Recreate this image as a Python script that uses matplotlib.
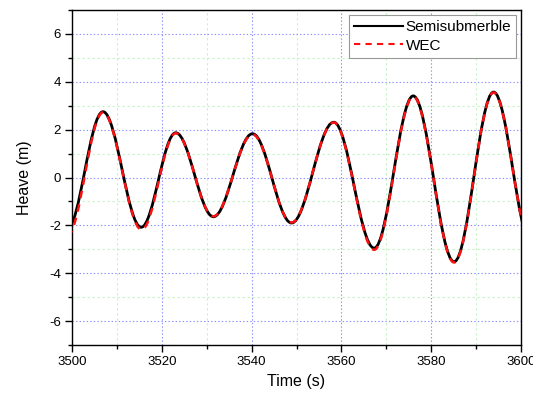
import matplotlib
matplotlib.use("Agg")
import matplotlib.pyplot as plt
from matplotlib.path import Path
from matplotlib.patches import PathPatch
from matplotlib.ticker import MultipleLocator

plt.rcParams['font.family'] = ['Liberation Sans', 'DejaVu Sans']
plt.rcParams['axes.unicode_minus'] = False

# Turning points of the heave response (time in s, heave in m)
semi_t = [3498.8, 3506.9, 3515.4, 3523.1, 3531.5, 3540.2, 3548.9,
          3558.3, 3567.3, 3576.0, 3585.1, 3593.9, 3602.4]
semi_v = [-2.2, 2.75, -2.08, 1.87, -1.64, 1.83, -1.90,
          2.31, -2.95, 3.41, -3.52, 3.57, -2.8]

wec_t = [3498.9, 3506.9, 3515.5, 3523.1, 3531.5, 3540.2, 3548.9,
         3558.3, 3567.3, 3576.0, 3585.1, 3593.9, 3602.4]
wec_v = [-2.45, 2.72, -2.18, 1.85, -1.62, 1.80, -1.88,
         2.30, -3.02, 3.38, -3.55, 3.55, -2.8]


def wave_path(ts, vs, k=0.363):
    """Smooth path through successive extrema using cubic Bezier segments
    with flat tangents at each turning point."""
    verts = [(ts[0], vs[0])]
    codes = [Path.MOVETO]
    for i in range(len(ts) - 1):
        dt = ts[i + 1] - ts[i]
        verts += [(ts[i] + k * dt, vs[i]),
                  (ts[i + 1] - k * dt, vs[i + 1]),
                  (ts[i + 1], vs[i + 1])]
        codes += [Path.CURVE4] * 3
    return Path(verts, codes)


fig = plt.figure(figsize=(5.33, 3.96), dpi=100)
ax = fig.add_axes([72 / 533, 1 - 345 / 396, 449 / 533, 335 / 396])

ax.set_xlim(3500, 3600)
ax.set_ylim(-7, 7)

ax.xaxis.set_major_locator(MultipleLocator(20))
ax.xaxis.set_minor_locator(MultipleLocator(10))
ax.yaxis.set_major_locator(MultipleLocator(2))
ax.yaxis.set_minor_locator(MultipleLocator(1))

ax.grid(which='major', color='#8c8cff', linestyle=(0, (1.2, 2)), linewidth=0.8)
ax.grid(which='minor', color='#c4f2c4', linestyle=(0, (2, 2.5)), linewidth=0.8)
ax.set_axisbelow(True)

black = PathPatch(wave_path(semi_t, semi_v), facecolor='none',
                  edgecolor='black', linewidth=2.0, zorder=3)
red = PathPatch(wave_path(wec_t, wec_v), facecolor='none',
                edgecolor='#ff1010', linewidth=1.8, linestyle=(0, (3, 2.5)),
                zorder=4)
ax.add_patch(black)
ax.add_patch(red)

# Proxy handles for the legend
h1, = ax.plot([], [], color='black', linewidth=1.5, label='Semisubmerble')
h2, = ax.plot([], [], color='#ff1010', linewidth=1.5, linestyle=(0, (3, 2.5)),
              label='WEC')

leg = ax.legend(handles=[h1, h2], loc='upper right', fontsize=11,
                frameon=True, fancybox=False, edgecolor='#999999',
                framealpha=1, handlelength=3.2, handletextpad=0.15,
                borderpad=0.35, labelspacing=0.3, borderaxespad=0.3)
leg.get_frame().set_linewidth(0.8)

ax.tick_params(which='major', direction='out', length=5, width=1,
               labelsize=9.5, top=False, right=False, pad=3)
ax.tick_params(which='minor', direction='out', length=3, width=1,
               top=False, right=False)
for s in ax.spines.values():
    s.set_linewidth(1.0)

ax.set_xlabel('Time (s)', fontsize=11.5, labelpad=4)
ax.set_ylabel('Heave (m)', fontsize=11.5, labelpad=12)

fig.savefig('out.png', dpi=100)
